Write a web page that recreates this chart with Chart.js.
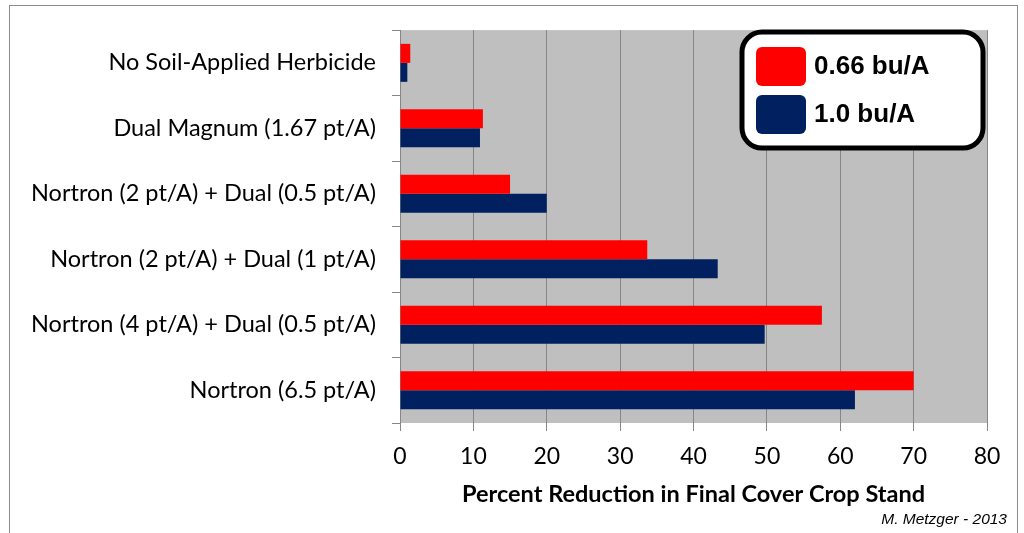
<!DOCTYPE html>
<html>
<head>
<meta charset="utf-8">
<script src="https://cdn.jsdelivr.net/npm/chart.js@4.4.0/dist/chart.umd.min.js"></script>
<style>
  body { margin: 0; background: #fff; }
  #wrap { position: relative; width: 1024px; height: 533px; }
  #frame { position: absolute; left: 9px; top: 5px; width: 1009px; height: 540px; border: 1px solid #8c8c8c; box-sizing: border-box; }
  #credit { position: absolute; right: 17px; top: 510px; font: italic 15.5px "Liberation Sans", Arial, sans-serif; color: #000; }
</style>
</head>
<body>
<div id="wrap">
  <div id="frame"></div>
  <canvas id="bar-chart" width="1024" height="533"></canvas>
  <div id="credit">M. Metzger - 2013</div>
</div>
<script>
const categories = [
  "No Soil-Applied Herbicide",
  "Dual Magnum (1.67 pt/A)",
  "Nortron (2 pt/A) + Dual (0.5 pt/A)",
  "Nortron (2 pt/A) + Dual (1 pt/A)",
  "Nortron (4 pt/A) + Dual (0.5 pt/A)",
  "Nortron (6.5 pt/A)"
];
const seriesNames = ["0.66 bu/A", "1.0 bu/A"];
const lowRate = [1.4, 11.3, 15.0, 33.7, 57.5, 70.0];
const highRate = [1.0, 10.9, 20.0, 43.3, 49.7, 62.0];
const xTicks = [0, 10, 20, 30, 40, 50, 60, 70, 80];

const plotBackground = {
  id: 'plotBackground',
  beforeDraw(chart) {
    const { ctx, chartArea: a } = chart;
    ctx.save();
    ctx.fillStyle = '#bfbfbf';
    ctx.fillRect(a.left, a.top, a.right - a.left, a.bottom - a.top);
    ctx.restore();
  }
};

// legend box drawn inside the plot, top right
const boxLegend = {
  id: 'boxLegend',
  afterDraw(chart) {
    const { ctx, chartArea: a } = chart;
    const x = a.right - 245, y = a.top + 2, w = 241, h = 116;
    ctx.save();
    ctx.beginPath();
    ctx.roundRect(x, y, w, h, 20);
    ctx.fillStyle = '#fff';
    ctx.fill();
    ctx.lineWidth = 5;
    ctx.strokeStyle = '#000';
    ctx.stroke();
    chart.data.datasets.forEach((ds, i) => {
      const sy = y + 15 + i * 48;
      ctx.beginPath();
      ctx.roundRect(x + 14, sy, 50, 39, 6);
      ctx.fillStyle = ds.backgroundColor;
      ctx.fill();
      ctx.fillStyle = '#000';
      ctx.font = 'bold 26px "Liberation Sans", Arial, sans-serif';
      ctx.textBaseline = 'middle';
      ctx.fillText(ds.label, x + 72, sy + 20);
    });
    ctx.restore();
  }
};

new Chart(document.getElementById('bar-chart'), {
  type: 'bar',
  data: {
    labels: categories,
    datasets: [
      { label: seriesNames[0], data: lowRate, backgroundColor: '#ff0000' },
      { label: seriesNames[1], data: highRate, backgroundColor: '#002060' }
    ]
  },
  options: {
    indexAxis: 'y',
    responsive: false,
    animation: false,
    layout: { padding: { left: 0, right: 37, top: 28, bottom: 24 } },
    datasets: { bar: { categoryPercentage: 0.58, barPercentage: 1.0 } },
    plugins: { legend: { display: false }, tooltip: { enabled: false } },
    scales: {
      x: {
        min: 0, max: 80,
        afterBuildTicks: s => { s.ticks = xTicks.map(v => ({ value: v })); },
        afterFit: s => { s.height = 86; },
        grid: { color: '#868686', tickLength: 8 },
        border: { display: false },
        ticks: { color: '#000', padding: 12, font: { family: 'Lato', size: 23 } },
        title: {
          display: true,
          text: 'Percent Reduction in Final Cover Crop Stand',
          color: '#000',
          padding: { top: 4, bottom: 0 },
          font: { family: 'Lato', size: 23.5, weight: 'bold' }
        }
      },
      y: {
        afterFit: s => { s.width = 400; },
        grid: { offset: true, drawOnChartArea: false, color: '#868686', tickLength: 8 },
        border: { color: '#868686' },
        ticks: { color: '#000', padding: 16, font: { family: 'Lato', size: 23.5 } }
      }
    }
  },
  plugins: [plotBackground, boxLegend]
});
</script>
</body>
</html>
